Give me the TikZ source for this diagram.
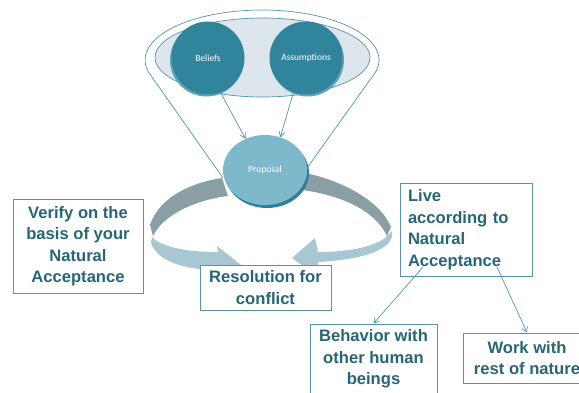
\documentclass[tikz,border=0pt]{standalone}
\usepackage{fontspec}
\setmainfont{Liberation Sans}
\newfontfamily\lblfont{Carlito}
\usetikzlibrary{shapes.geometric,arrows.meta}
\definecolor{tealdark}{RGB}{48,132,156}
\definecolor{teallight}{RGB}{95,162,182}
\definecolor{innerfill}{RGB}{221,230,236}
\definecolor{funnelline}{RGB}{80,150,170}
\definecolor{propfill}{RGB}{125,185,202}
\definecolor{propshade}{RGB}{45,128,152}
\definecolor{banddark}{RGB}{138,158,166}
\definecolor{bandlight}{RGB}{168,199,211}
\definecolor{boxline}{RGB}{84,150,168}
\definecolor{boxtext}{RGB}{38,102,118}
\begin{document}
\begin{tikzpicture}[x=1pt,y=-1pt,
  funnel/.style={draw=funnelline,line width=0.7},
  bigc/.style={circle,fill=tealdark,minimum size=73,inner sep=0,text=white,font=\lblfont\fontsize{9.5}{11}\selectfont},
  propnode/.style={ellipse,fill=propfill,minimum width=84,minimum height=70,inner sep=0,text=white,font=\lblfont\fontsize{9.5}{11}\selectfont},
  thinarrow/.style={draw=funnelline,line width=0.7,-{Straight Barb[length=5pt,width=6pt]}},
  textbox/.style={draw=boxline,line width=0.9,fill=white,text=boxtext,font=\bfseries\fontsize{16.6}{21.5}\selectfont,align=center,inner sep=2}
]
\useasboundingbox (0,0) rectangle (579,392);
\clip (0,0) rectangle (579,392);

% funnel
\draw[funnel] (223,178) -- (148.5,72.1) arc[start angle=166,end angle=374,x radius=117,y radius=50] -- (307,168);
\draw[funnel,fill=innerfill] (262.5,57.5) ellipse[x radius=107.5,y radius=39.5];

% belief and assumption circles
\fill[teallight] (206.5,60) circle[radius=36.5];
\fill[teallight] (307.5,60) circle[radius=36.5];
\node[bigc] (bel) at (208,58) {Beliefs};
\node[bigc] (asm) at (306,58) {Assumptions};

% curved arrows (left)
\fill[banddark] (222,178) .. controls (195,182) and (160,195) .. (150,225)
  -- (153,236) .. controls (163,215) and (195,200) .. (228,196) -- cycle;
\fill[bandlight] (152,237) .. controls (162,248) and (190,252) .. (218,252)
  -- (217,246) -- (245,268) -- (222,290) -- (220,270)
  .. controls (185,270) and (158,262) .. (151,243) -- cycle;
% curved arrows (right)
\fill[banddark] (305,173) .. controls (340,180) and (380,200) .. (391,227)
  -- (387,236) .. controls (375,210) and (340,195) .. (302,190) -- cycle;
\fill[bandlight] (392,231) .. controls (396,250) and (360,260) .. (318,262)
  -- (320,278) -- (292,258) -- (315,238) -- (318,252)
  .. controls (350,252) and (378,246) .. (387,236) -- cycle;

% proposal
\fill[propshade] (267,173) ellipse[x radius=42,y radius=35];
\node[propnode] (prop) at (265,170) {Proposal};

\draw[thinarrow] (bel.-70) -- (prop.122);
\draw[thinarrow] (asm.-110) -- (prop.65);

% text boxes
\node[textbox,minimum width=130,minimum height=94] (ver) at (78,246) {Verify on the\\basis of your\\Natural\\Acceptance};
\node[textbox,align=left,text width=116,inner xsep=8,minimum height=93] (live) at (466,229.5) {Live\\according to\\Natural\\Acceptance};
\node[textbox,minimum width=131,minimum height=45] (res) at (265.5,287.5) {Resolution for\\conflict};
\node[textbox,minimum width=127,minimum height=70] (beh) at (373.5,359) {Behavior with\\other human\\beings};
\node[textbox,minimum width=128,minimum height=50] (work) at (527,358) {Work with\\rest of nature};

\coordinate (l1) at (423,267);
\coordinate (l2) at (497,267);
\draw[thinarrow] (l1) -- (beh.north);
\draw[thinarrow] (l2) -- (work.north);
\end{tikzpicture}
\end{document}
